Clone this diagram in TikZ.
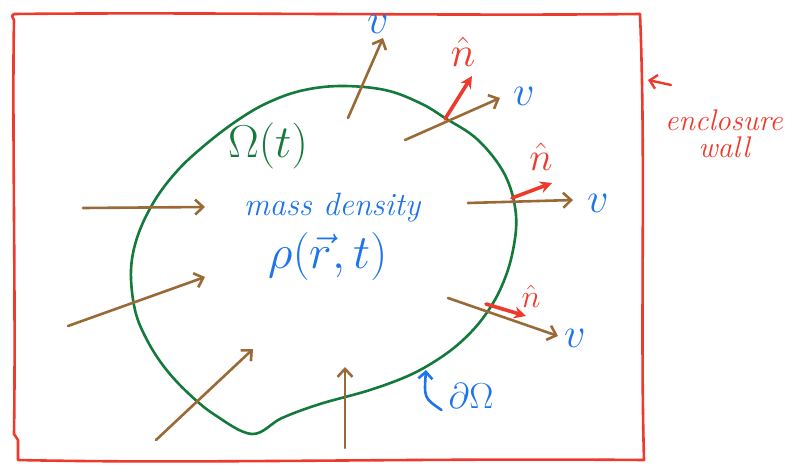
\documentclass[tikz,border=0pt]{standalone}
\usepackage{graphicx}
\usepackage{amsmath}
\usetikzlibrary{arrows.meta,positioning,calc}
\definecolor{wallred}{HTML}{EE3A2C}
\definecolor{regiongreen}{HTML}{137A3C}
\definecolor{flowbrown}{HTML}{9A6A36}
\definecolor{inkblue}{HTML}{1E74EA}
\newcommand{\bigtext}[2]{\scalebox{#1}{\Huge #2}}
\tikzset{
  wall/.style={draw=wallred, line width=2.6pt, line join=round},
  region/.style={draw=regiongreen, line width=2.6pt},
  flow/.style={draw=flowbrown, line width=2.6pt, line cap=round, -{Straight Barb[length=8pt,width=15pt,line width=2.6pt]}},
  normal/.style={draw=wallred, line width=3.6pt, line cap=round, -{Stealth[length=12pt,width=12pt]}},
  vlab/.style={text=inkblue, inner sep=1pt},
  nlab/.style={text=wallred, inner sep=0pt},
  bluelab/.style={text=inkblue, inner sep=1pt},
}

\begin{document}
\begin{tikzpicture}[x=1pt, y=-1pt]
  \useasboundingbox (0,0) rectangle (794,468);

  % enclosure wall
  \draw[wall] (12,16) -- (14,14) .. controls (200,12) and (450,16) .. (640,14)
    .. controls (646,160) and (640,320) .. (644,460)
    .. controls (400,458) and (200,464) .. (18,460) -- (18,440) -- (14,434)
    .. controls (16,300) and (12,120) .. (14,20) -- cycle;

  % region Omega(t)
  \draw[region] plot[smooth cycle, tension=0.6] coordinates {
    (300,91) (340,86) (385,90) (420,103) (445,118) (478,140) (505,175)
    (516,215) (512,255) (500,290) (483,318) (463,340) (440,358) (410,375)
    (370,390) (320,404) (282,418) (252,434) (215,415) (188,393) (165,368)
    (147,340) (135,310) (131,270) (138,235) (155,200) (178,170) (205,145)
    (235,122) (265,104)};

  % velocity arrows
  \foreach \n/\ax/\ay/\bx/\by in {top/348/118/383/38, ur/405/140/500/98,
      rm/468/203/573/200, rl/448/298/558/336, lu/83/208/205/207,
      ll/68/326/205/277, bl/156/440/253/349, bc/345/448/345/367} {
    \coordinate (t-\n) at (\ax,\ay);
    \coordinate (h-\n) at (\bx,\by);
    \draw[flow] (t-\n) -- (h-\n);
  }

  % outward normals
  \coordinate (p-ur) at (445,119);
  \coordinate (q-ur) at (472,76);
  \coordinate (p-rm) at (512,198);
  \coordinate (q-rm) at (552,183);
  \coordinate (p-rl) at (486,304);
  \coordinate (q-rl) at (526,316);
  \draw[normal] (p-ur) -- (q-ur);
  \draw[normal] (p-rm) -- (q-rm);
  \draw[normal] (p-rl) -- (q-rl);

  % labels
  \node[vlab] (v-top) at (378,24) {\bigtext{1.7}{$v$}};
  \node[vlab] (v-ur) at (524,96) {\bigtext{1.7}{$v$}};
  \node[vlab] (v-rm) at (598,203) {\bigtext{1.7}{$v$}};
  \node[vlab] (v-rl) at (575,338) {\bigtext{1.7}{$v$}};
  \node[nlab] (n-ur) at (463,52) {\bigtext{1.7}{$\hat{n}$}};
  \node[nlab] (n-rm) at (541,157) {\bigtext{1.6}{$\hat{n}$}};
  \node[nlab] (n-rl) at (531,296) {\bigtext{1.3}{$\hat{n}$}};

  \node[text=regiongreen, inner sep=1pt] (omega) at (268,146) {\bigtext{1.85}{$\Omega(t)$}};
  \node[bluelab] (mass) at (332,208) {\bigtext{1.3}{\itshape mass density}};
  \node[bluelab] (rho) at (328,256) {\bigtext{1.93}{$\rho(\vec{r},t)$}};

  \node[bluelab] (boundary) at (471,396) {\bigtext{1.45}{$\partial\Omega$}};
  \coordinate (b-tip) at (426,370);
  \draw[draw=inkblue, line width=2.6pt, line cap=round, -{Straight Barb[length=7pt,width=14pt,line width=2.6pt]}]
    (boundary.west) ++(-6,14) .. controls (424,398) .. (b-tip);

  \node[text=wallred, inner sep=0pt] (encl) at (724,120) {\bigtext{1.2}{\itshape enclosure}};
  \node[text=wallred, inner sep=0pt, below=6pt of encl] (wall-lab) {\bigtext{1.2}{\itshape wall}};
  \coordinate (w-tip) at (648,80);
  \draw[draw=wallred, line width=2.4pt, line cap=round, -{Straight Barb[length=7pt,width=14pt,line width=2.4pt]}]
    (671,85) -- (w-tip);
\end{tikzpicture}
\end{document}
